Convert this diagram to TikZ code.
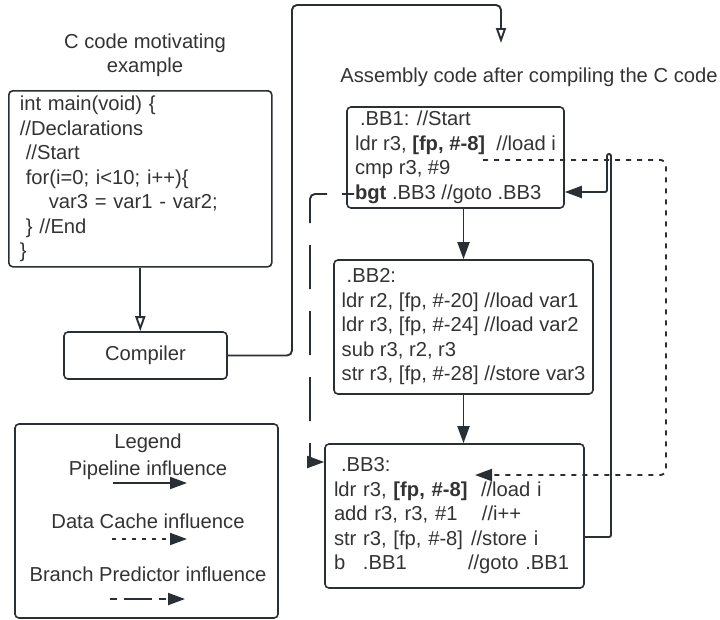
\documentclass[tikz,border=0pt]{standalone}
\usepackage{fontspec}
\setmainfont{Liberation Sans}
\usetikzlibrary{arrows.meta}
\definecolor{ink}{HTML}{2A2E35}
\definecolor{txt}{HTML}{333333}
\newcommand{\cmtcol}[2]{\makebox[#1][l]{#2}}
\tikzset{
  box/.style={draw=ink,line width=1.6pt,rounded corners=4pt,align=left,inner ysep=0pt},
  pipe/.style={draw=ink,line width=1.9pt,rounded corners=5pt,-{Triangle[length=17pt,width=12pt]}},
  cache/.style={pipe,dash pattern=on 5pt off 6pt},
  branch/.style={pipe,dash pattern=on 12pt off 15pt on 44pt off 22pt on 44pt off 22pt on 44pt off 22pt on 44pt off 22pt on 44pt off 22pt},
  flow/.style={draw=ink,line width=1.9pt,rounded corners=5pt,-{Triangle[open,length=15pt,width=10pt]}},
}
\begin{document}
\begin{tikzpicture}[x=1pt,y=-1pt,font=\fontsize{20.2}{24.5}\selectfont,text=txt]
  \useasboundingbox (0,0) rectangle (720,619);

  % C source and compiler
  \node[align=center] (ctitle) at (145,55.5) {C code motivating\\example};
  \node[box,anchor=north west,text width=241pt,inner xsep=11pt,minimum height=176pt] (ccode) at (8,90)
    {int main(void) \{\\//Declarations\\\hspace*{6pt}//Start\\\hspace*{6pt}for(i=0; i<10; i++)\{\\\hspace*{29pt}var3 = var1 - var2;\\\hspace*{6pt}\} //End\\\}};
  \node[box,minimum width=163pt,minimum height=47pt] (comp) at (145.5,355.5) {Compiler};

  % assembly blocks
  \node[anchor=base] (atitle) at (529,82) {Assembly code after compiling the C code};
  \coordinate (ain) at (501,43);
  \node[box,minimum width=217pt,minimum height=101pt] (bb1) at (455.5,157.5)
    {\hspace*{5pt}.BB1: //Start\\ldr r3, \textbf{[fp, \#-8]}~~//load i\\cmp r3, \#9\\\textbf{bgt} .BB3 //goto .BB3};
  \node[box,minimum width=259pt,minimum height=134pt] (bb2) at (463.5,327)
    {\hspace*{5pt}.BB2:\\ldr r2, [fp, \#-20] //load var1\\ldr r3, [fp, \#-24] //load var2\\sub r3, r2, r3\\str r3, [fp, \#-28] //store var3};
  \node[box,text width=241pt,inner xsep=9pt,minimum height=144pt] (bb3) at (454.5,516)
    {\hspace*{7pt}.BB3:\\ldr r3, \textbf{[fp, \#-8]}~~//load i\\\cmtcol{148pt}{add r3, r3, \#1}//i++\\\cmtcol{137pt}{str r3, [fp, \#-8]}//store i\\\cmtcol{29pt}{b}\cmtcol{105pt}{.BB1}//goto .BB1};

  % legend
  \node[box,minimum width=263pt,minimum height=194pt] (legend) at (146.5,521) {};
  \node[anchor=base] (lgtitle) at (148,448) {Legend};
  \node[anchor=base] (lgpipe) at (148,475) {Pipeline influence};
  \node[anchor=base] (lgcache) at (148,528) {Data Cache influence};
  \node[anchor=base] (lgbranch) at (148,581) {Branch Predictor influence};
  \draw[pipe] (113,483) -- (187,483);
  \draw[pipe,dash pattern=on 3.5pt off 6.5pt] (112,539) -- (187,539);
  \draw[pipe,dash pattern=on 7pt off 7pt on 28pt off 7pt] (110,599) -- (185,599);

  % connectors
  \draw[flow] (ccode.south) -- (ccode.south |- comp.north);
  \draw[flow] (comp.east) -| (292,5) -| (ain);
  \draw[pipe] (bb2.north |- bb1.south) -- (bb2.north);
  \draw[pipe] (bb2.south) -- (bb2.south |- bb3.north);
  \draw[pipe,rounded corners=2pt] ([shift={(0,21)}]bb3.east) -| (611,154) -- (607,154) |- ([shift={(0,34.5)}]bb1.east);
  \draw[cache] ([shift={(27.5,2.5)}]bb1.center) -| (666,475) -- ([shift={(20.5,-41)}]bb3.center);
  \draw[branch] ([shift={(8,36.5)}]bb1.west) -| (310,462) -- ([shift={(0,-54)}]bb3.west);
\end{tikzpicture}
\end{document}
